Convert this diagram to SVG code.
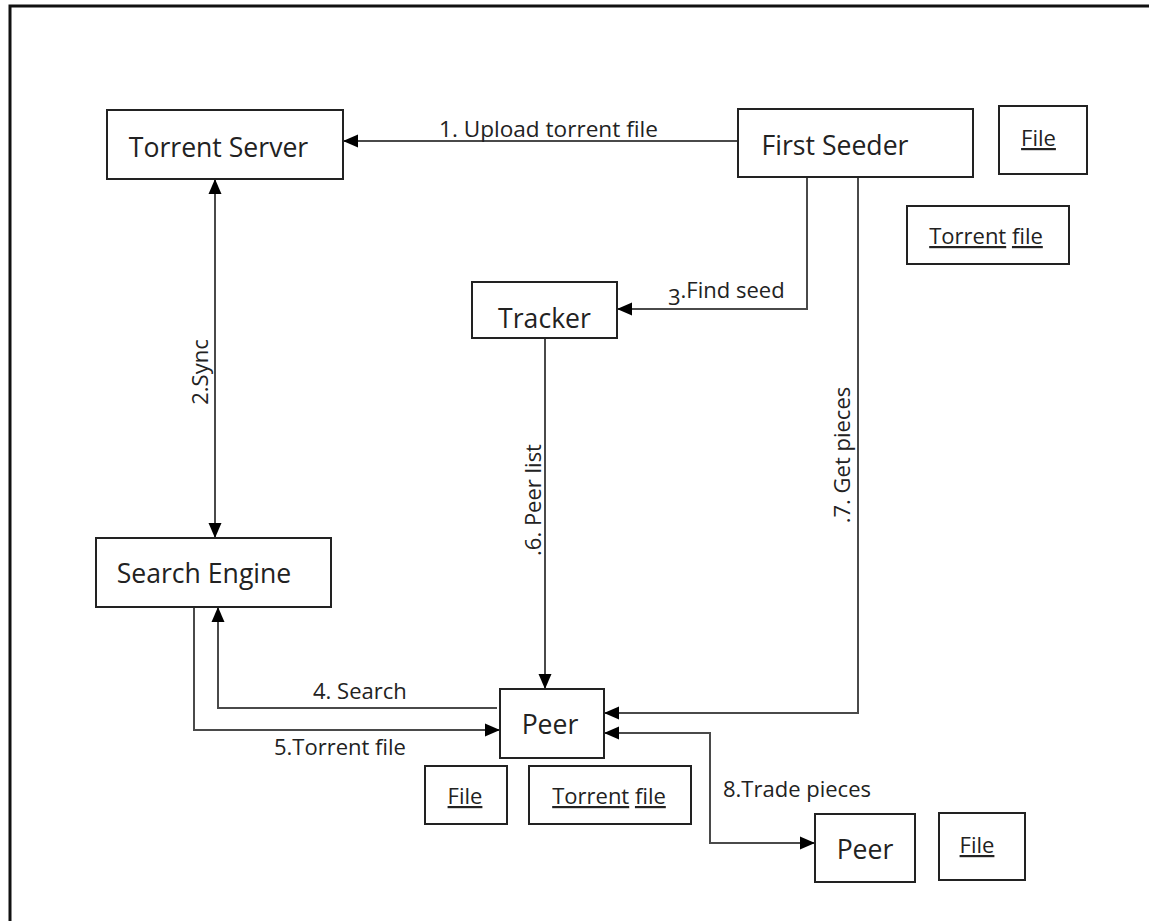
<svg xmlns="http://www.w3.org/2000/svg" width="1149" height="921" viewBox="0 0 1149 921">
<style>
.box{fill:#fff;stroke:#222;stroke-width:2}
.node{font-family:"Open Sans","Liberation Sans",sans-serif;font-size:26.6px;fill:#222;text-anchor:middle}
.item{font-family:"Open Sans","Liberation Sans",sans-serif;font-size:22px;fill:#222;text-anchor:middle}
.lbl{font-family:"Open Sans","Liberation Sans",sans-serif;font-size:22px;fill:#222}
.conn{fill:none;stroke:#4a4a4a;stroke-width:2}
.u{text-decoration:underline}
</style>
<defs>
<marker id="ah" markerUnits="userSpaceOnUse" markerWidth="16" markerHeight="16" refX="15" refY="8" orient="auto-start-reverse" viewBox="0 0 16 16">
<path d="M0,1.5 L15,8 L0,14.5 Z" fill="#000"/>
</marker>
</defs>
<rect width="1149" height="921" fill="#fff"/>
<path d="M10,921 V6 H1149" fill="none" stroke="#111" stroke-width="3"/>

<g id="connectors">
<path class="conn" d="M738,141 H343" marker-end="url(#ah)"/>
<path class="conn" d="M215,179 V538" marker-start="url(#ah)" marker-end="url(#ah)"/>
<path class="conn" d="M807,177 V309 H617" marker-end="url(#ah)"/>
<path class="conn" d="M497,708 H218 V607" marker-end="url(#ah)"/>
<path class="conn" d="M194,607 V730 H500" marker-end="url(#ah)"/>
<path class="conn" d="M545,338 V689" marker-end="url(#ah)"/>
<path class="conn" d="M858,177 V713 H604" marker-end="url(#ah)"/>
<path class="conn" d="M604,733 H710 V843 H815" marker-start="url(#ah)" marker-end="url(#ah)"/>
<text class="lbl" x="439" y="137" style="font-size:22.6px">1. Upload torrent file</text>
<text class="lbl" x="668" y="305">3<tspan dy="-7">.Find seed</tspan></text>
<text class="lbl" x="313" y="699">4. Search</text>
<text class="lbl" x="274" y="755">5.Torrent file</text>
<text class="lbl" x="723" y="797">8.Trade pieces</text>
<text class="lbl" text-anchor="middle" transform="translate(208,372) rotate(-90)">2.Sync</text>
<text class="lbl" text-anchor="middle" transform="translate(541,500) rotate(-90)">.6. Peer list</text>
<text class="lbl" text-anchor="middle" transform="translate(850,455) rotate(-90)">.7. Get pieces</text>
</g>

<g id="torrent-server">
<rect class="box" x="107" y="110" width="236" height="69"/>
<text class="node" x="218.5" y="157">Torrent Server</text>
</g>
<g id="first-seeder">
<rect class="box" x="738" y="109" width="235" height="68"/>
<text class="node" x="835" y="155">First Seeder</text>
</g>
<g id="seeder-file">
<rect class="box" x="999" y="106" width="88" height="68"/>
<text class="item" x="1038.5" y="146"><tspan class="u">File</tspan></text>
</g>
<g id="seeder-torrent-file">
<rect class="box" x="907" y="206" width="162" height="58"/>
<text class="item" x="986" y="244"><tspan class="u">Torrent</tspan> <tspan class="u">file</tspan></text>
</g>
<g id="tracker">
<rect class="box" x="472" y="282" width="145" height="56"/>
<text class="node" x="544.5" y="328">Tracker</text>
</g>
<g id="search-engine">
<rect class="box" x="96" y="538" width="235" height="69"/>
<text class="node" x="204" y="583">Search Engine</text>
</g>
<g id="peer">
<rect class="box" x="500" y="689" width="104" height="69"/>
<text class="node" x="550" y="734">Peer</text>
</g>
<g id="peer-file">
<rect class="box" x="425" y="766" width="82" height="58"/>
<text class="item" x="465" y="804"><tspan class="u">File</tspan></text>
</g>
<g id="peer-torrent-file">
<rect class="box" x="529" y="766" width="162" height="58"/>
<text class="item" x="609" y="804"><tspan class="u">Torrent</tspan> <tspan class="u">file</tspan></text>
</g>
<g id="peer2">
<rect class="box" x="815" y="814" width="100" height="68"/>
<text class="node" x="865" y="859">Peer</text>
</g>
<g id="peer2-file">
<rect class="box" x="939" y="813" width="86" height="67"/>
<text class="item" x="977" y="853"><tspan class="u">File</tspan></text>
</g>
</svg>
